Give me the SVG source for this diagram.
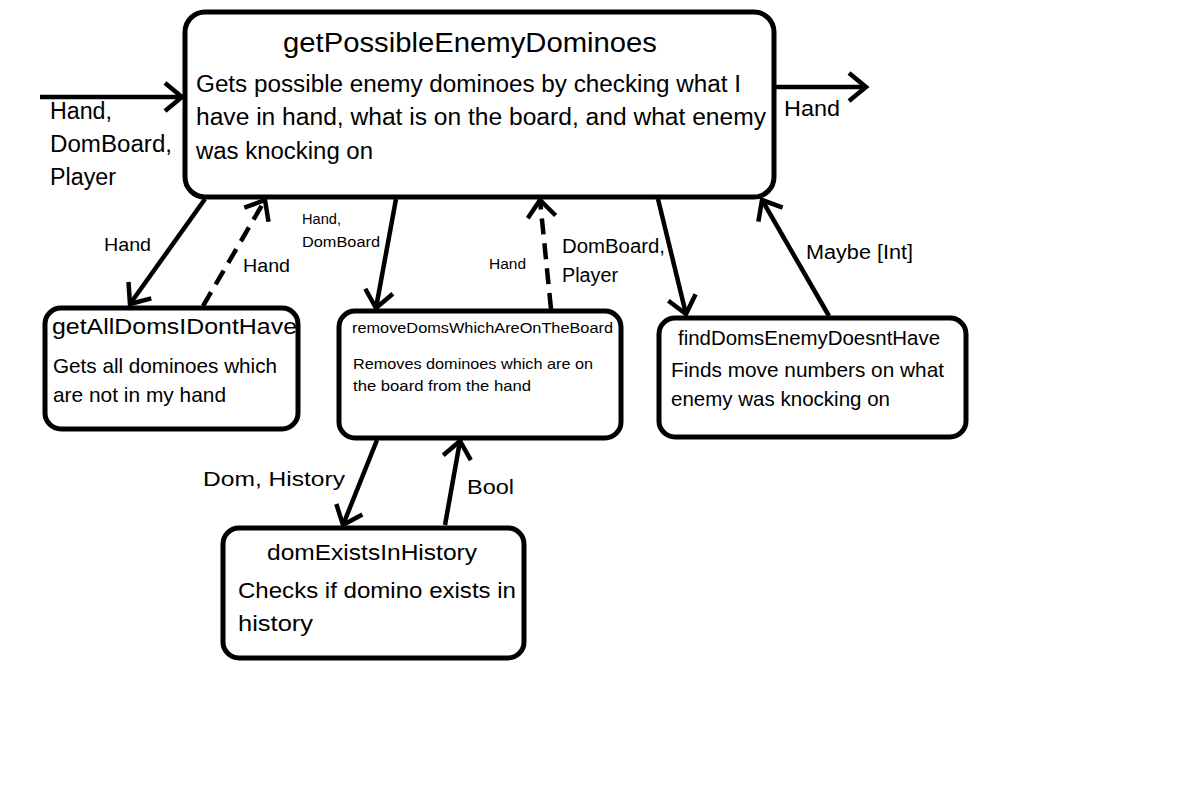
<svg xmlns="http://www.w3.org/2000/svg" width="1182" height="789" viewBox="0 0 1182 789">
<style>
text{font-family:"Liberation Sans","Open Sans",sans-serif;fill:#000}
.box{fill:#fff;stroke:#000;stroke-width:5}
.ln{stroke:#000;stroke-width:4.5;fill:none}
.dash{stroke-dasharray:16 9}
</style>
<defs>
<marker id="ah" markerUnits="userSpaceOnUse" markerWidth="40" markerHeight="40" refX="0" refY="0" viewBox="-24 -20 28 40" orient="auto" overflow="visible">
<path d="M-17,-14 L0,0 L-17,14" fill="none" stroke="#000" stroke-width="4.5"/>
</marker>
</defs>
<rect width="1182" height="789" fill="#fff"/>
<g id="main">
<rect class="box" x="185" y="12" width="589" height="185" rx="20"/>
<text x="283" y="52" font-size="27" textLength="374" lengthAdjust="spacingAndGlyphs">getPossibleEnemyDominoes</text>
<text x="196" y="92" font-size="23" textLength="545" lengthAdjust="spacingAndGlyphs">Gets possible enemy dominoes by checking what I</text>
<text x="196" y="125" font-size="23" textLength="570" lengthAdjust="spacingAndGlyphs">have in hand, what is on the board, and what enemy</text>
<text x="196" y="159" font-size="23" textLength="177" lengthAdjust="spacingAndGlyphs">was knocking on</text>
</g>
<g id="getAll">
<rect class="box" x="45" y="308" width="253" height="121" rx="16"/>
<text x="52" y="334" font-size="22" textLength="245" lengthAdjust="spacingAndGlyphs">getAllDomsIDontHave</text>
<text x="53" y="373" font-size="21" textLength="224" lengthAdjust="spacingAndGlyphs">Gets all dominoes which</text>
<text x="53" y="402" font-size="21" textLength="173" lengthAdjust="spacingAndGlyphs">are not in my hand</text>
</g>
<g id="remove">
<rect class="box" x="339" y="311" width="282" height="127" rx="16"/>
<text x="352" y="333" font-size="15" textLength="261" lengthAdjust="spacingAndGlyphs">removeDomsWhichAreOnTheBoard</text>
<text x="353" y="369" font-size="15" textLength="240" lengthAdjust="spacingAndGlyphs">Removes dominoes which are on</text>
<text x="353" y="391" font-size="15" textLength="178" lengthAdjust="spacingAndGlyphs">the board from the hand</text>
</g>
<g id="find">
<rect class="box" x="659" y="318" width="307" height="119" rx="16"/>
<text x="678" y="345" font-size="20" textLength="262" lengthAdjust="spacingAndGlyphs">findDomsEnemyDoesntHave</text>
<text x="671" y="377" font-size="21" textLength="273" lengthAdjust="spacingAndGlyphs">Finds move numbers on what</text>
<text x="671" y="406" font-size="21" textLength="219" lengthAdjust="spacingAndGlyphs">enemy was knocking on</text>
</g>
<g id="domExists">
<rect class="box" x="223" y="528" width="301" height="130" rx="16"/>
<text x="267" y="560" font-size="22" textLength="210" lengthAdjust="spacingAndGlyphs">domExistsInHistory</text>
<text x="238" y="598" font-size="22" textLength="278" lengthAdjust="spacingAndGlyphs">Checks if domino exists in</text>
<text x="238" y="631" font-size="22" textLength="75" lengthAdjust="spacingAndGlyphs">history</text>
</g>
<g id="connectors">
<line class="ln" x1="40" y1="97" x2="182" y2="97" marker-end="url(#ah)"/>
<line class="ln" x1="774" y1="87" x2="866" y2="87" marker-end="url(#ah)"/>
<line class="ln" x1="205" y1="199" x2="130" y2="304" marker-end="url(#ah)"/>
<line class="ln dash" x1="203" y1="306" x2="265" y2="200" marker-end="url(#ah)"/>
<line class="ln" x1="396" y1="199" x2="376" y2="308" marker-end="url(#ah)"/>
<line class="ln dash" x1="551" y1="309" x2="540" y2="200" marker-end="url(#ah)"/>
<line class="ln" x1="658" y1="199" x2="686" y2="314" marker-end="url(#ah)"/>
<line class="ln" x1="829" y1="316" x2="762" y2="200" marker-end="url(#ah)"/>
<line class="ln" x1="377" y1="440" x2="343" y2="525" marker-end="url(#ah)"/>
<line class="ln" x1="445" y1="525" x2="460" y2="441" marker-end="url(#ah)"/>
</g>
<g id="labels">
<text x="50" y="119" font-size="23" textLength="62" lengthAdjust="spacingAndGlyphs">Hand,</text>
<text x="50" y="152" font-size="23" textLength="122" lengthAdjust="spacingAndGlyphs">DomBoard,</text>
<text x="50" y="185" font-size="23" textLength="66" lengthAdjust="spacingAndGlyphs">Player</text>
<text x="784" y="116" font-size="22" textLength="56" lengthAdjust="spacingAndGlyphs">Hand</text>
<text x="104" y="251" font-size="19" textLength="47" lengthAdjust="spacingAndGlyphs">Hand</text>
<text x="243" y="272" font-size="19" textLength="47" lengthAdjust="spacingAndGlyphs">Hand</text>
<text x="302" y="224" font-size="14" textLength="39" lengthAdjust="spacingAndGlyphs">Hand,</text>
<text x="302" y="247" font-size="14" textLength="78" lengthAdjust="spacingAndGlyphs">DomBoard</text>
<text x="489" y="269" font-size="14" textLength="37" lengthAdjust="spacingAndGlyphs">Hand</text>
<text x="562" y="253" font-size="20" textLength="103" lengthAdjust="spacingAndGlyphs">DomBoard,</text>
<text x="562" y="282" font-size="20" textLength="56" lengthAdjust="spacingAndGlyphs">Player</text>
<text x="806" y="259" font-size="20" textLength="107" lengthAdjust="spacingAndGlyphs">Maybe [Int]</text>
<text x="203" y="486" font-size="21" textLength="142" lengthAdjust="spacingAndGlyphs">Dom, History</text>
<text x="467" y="494" font-size="21" textLength="47" lengthAdjust="spacingAndGlyphs">Bool</text>
</g>
</svg>
